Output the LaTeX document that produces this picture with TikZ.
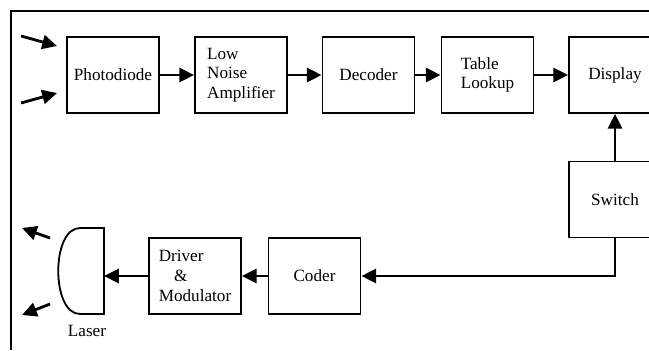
\documentclass[tikz,border=0pt]{standalone}
\usepackage{fontspec}
\setmainfont{Liberation Serif}
\usetikzlibrary{arrows.meta,positioning}

\begin{document}
\begin{tikzpicture}[x=0.025cm, y=-0.025cm,
  block/.style={draw, line width=1.3pt, minimum width=2.3cm, minimum height=1.9cm,
    inner sep=2pt, align=left, font=\fontsize{12.2}{14}\selectfont},
  flow/.style={line width=2pt, -{Triangle[length=10.5pt,width=10pt]}}]
  \useasboundingbox (0,0) rectangle (649,350);

  % Outer frame (open on right and bottom)
  \draw[line width=1.3pt] (11,350) -- (11,11) -- (649,11);

  % Receiver chain
  \node[block] (pd)  at (113,75)   {Photodiode};
  \node[block] (lna) at (241,75)   {Low\\Noise\\Amplifier};
  \node[block] (dec) at (368.5,75) {Decoder};
  \node[block] (tab) at (487.5,75) {Table\\Lookup};
  \node[block] (disp) at (615,75)  {Display};

  % Switch and transmitter chain
  \node[block] (sw)  at (615,199.5) {Switch};
  \node[block] (cod) at (314.5,276) {Coder};
  \node[block] (drv) at (195,276)   {Driver\\\hspace*{0.9em}\&\\Modulator};

  % Laser as a D shape
  \draw[line width=1.3pt] (104,228) -- (80,228)
    .. controls (51,228) and (51,314) .. (80,314) -- (104,314) -- cycle;
  \coordinate (laser) at (104,276);
  \node[font=\fontsize{12.2}{14}\selectfont] (laserlbl) at (87,331) {Laser};

  % Light in and out
  \coordinate (inA) at (21,36);   \coordinate (inAend) at (57,46);
  \coordinate (inB) at (21,103);  \coordinate (inBend) at (57,93);
  \coordinate (outA) at (50,238); \coordinate (outAend) at (22,228);
  \coordinate (outB) at (50,304); \coordinate (outBend) at (22,315);
  \draw[flow] (inA) -- (inAend);
  \draw[flow] (inB) -- (inBend);
  \draw[flow] (outA) -- (outAend);
  \draw[flow] (outB) -- (outBend);

  % Signal flow
  \draw[flow] (pd) -- (lna);
  \draw[flow] (lna) -- (dec);
  \draw[flow] (dec) -- (tab);
  \draw[flow] (tab) -- (disp);
  \draw[flow] (sw) -- (disp);
  \draw[flow] (sw.south) |- (cod.east);
  \draw[flow] (cod) -- (drv);
  \draw[flow] (drv) -- (laser);
\end{tikzpicture}
\end{document}
